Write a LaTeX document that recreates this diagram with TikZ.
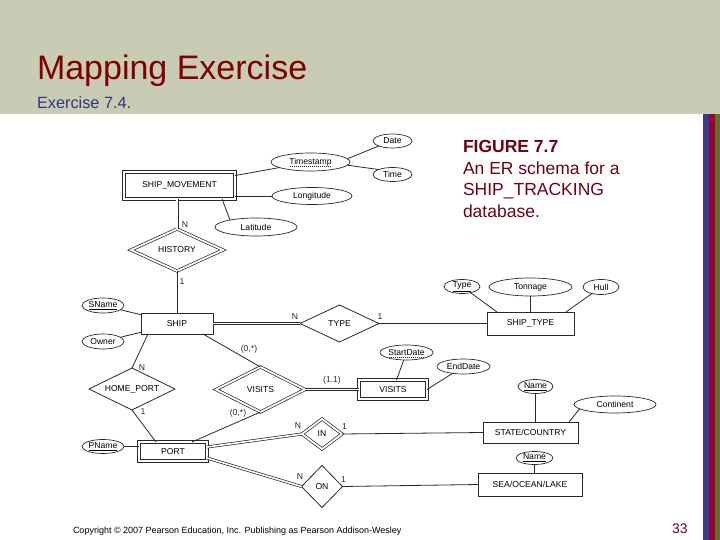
\documentclass[tikz,border=0pt]{standalone}
\usepackage{fontspec}
\setmainfont{Liberation Sans}
\usetikzlibrary{shapes.geometric,calc}
\definecolor{hdr}{RGB}{200,204,180}
\definecolor{ttl}{RGB}{128,0,0}
\definecolor{subc}{RGB}{51,51,128}
\definecolor{capc}{RGB}{110,0,20}
\definecolor{stb}{RGB}{60,60,140}
\definecolor{str}{RGB}{150,0,50}
\definecolor{sto}{RGB}{100,110,40}
\definecolor{ln}{RGB}{40,40,40}
\newcommand\erfont{\fontsize{8.6}{10}\selectfont}
\begin{document}
\begin{tikzpicture}[x=1pt,y=-1pt,
 every node/.style={inner sep=0pt, outer sep=0pt},
 ent/.style={draw=ln, rectangle, line width=0.8pt, font=\erfont},
 went/.style={ent, double, double distance=1.8pt, line width=0.7pt},
 rel/.style={draw=ln, diamond, line width=0.8pt, font=\erfont},
 wrel/.style={rel, double, double distance=1.8pt, line width=0.7pt},
 att/.style={draw=ln, ellipse, line width=0.7pt, font=\erfont},
 lbl/.style={font=\erfont, text=ln},
 con/.style={draw=ln, line width=0.8pt},
 dcon/.style={draw=ln, double, double distance=1.6pt, line width=0.7pt},
 dul/.style={draw=ln, line width=0.5pt, dash pattern=on 1pt off 1pt}]
\useasboundingbox (0,0) rectangle (720,540);
% header and stripes
\fill[hdr] (0,0) rectangle (720,114);
\fill[stb] (703,114) rectangle (708.5,540);
\fill[str] (708.5,114) rectangle (714.5,540);
\fill[sto] (714.5,114) rectangle (720,540);
\node[anchor=base west, text=ttl, font=\fontsize{34}{38}\selectfont] (title) at (37,80) {Mapping Exercise};
\node[anchor=base west, text=subc, font=\fontsize{16.3}{19}\selectfont] (subt) at (37,109) {Exercise 7.4.};
% caption
\node[anchor=base west, text=capc, font=\fontsize{17.5}{21}\selectfont\bfseries] (cap1) at (463,153) {FIGURE 7.7};
\node[anchor=base west, text=capc, font=\fontsize{17.5}{21}\selectfont] (cap2) at (463,174.5) {An ER schema for a};
\node[anchor=base west, text=capc, font=\fontsize{17.5}{21}\selectfont] (cap3) at (463,196) {SHIP\_TRACKING};
\node[anchor=base west, text=capc, font=\fontsize{17.5}{21}\selectfont] (cap4) at (463,217.5) {database.};
% footer
\node[anchor=base west, font=\fontsize{9}{10}\selectfont] (copy) at (73,533) {Copyright © 2007 Pearson Education, Inc. Publishing as Pearson Addison-Wesley};
\node[anchor=base west, text=capc, font=\fontsize{14}{16}\selectfont] (pg) at (672,533) {33};
% entities
\node[went, minimum width=111pt, minimum height=27pt] (sm) at (179.5,185.5) {SHIP\_MOVEMENT};
\node[ent, minimum width=72pt, minimum height=21pt] (ship) at (177,323.5) {SHIP};
\node[ent, minimum width=87pt, minimum height=23pt] (st) at (530.5,323.5) {SHIP\_TYPE};
\node[went, minimum width=68pt, minimum height=19pt] (vent) at (393,389.5) {VISITS};
\node[went, minimum width=68pt, minimum height=19pt] (port) at (173,451.5) {PORT};
\node[ent, minimum width=95pt, minimum height=21pt] (sc) at (530.5,432.5) {STATE/COUNTRY};
\node[ent, minimum width=104pt, minimum height=23pt] (sol) at (530,484.5) {SEA/OCEAN/LAKE};
% relationships
\node[wrel, aspect=2.2, minimum width=92pt, minimum height=42pt] (hist) at (177,250) {HISTORY};
\node[rel, aspect=2.1, minimum width=79pt, minimum height=37pt] (type) at (339.5,323.5) {TYPE};
\node[wrel, aspect=2, minimum width=89pt, minimum height=45pt] (vrel) at (260.5,389.5) {VISITS};
\node[rel, aspect=2, minimum width=86pt, minimum height=42pt] (hp) at (132,389) {HOME\_PORT};
\node[wrel, aspect=1.33, minimum width=40pt, minimum height=30pt] (in) at (322,434) {IN};
\node[rel, aspect=1, minimum width=41pt, minimum height=42pt] (on) at (322,486.5) {ON};
% attributes
\node[att, minimum width=79pt, minimum height=18pt] (ts) at (310.5,162) {Timestamp};
\node[att, minimum width=39pt, minimum height=14pt] (date) at (392.5,141) {Date};
\node[att, minimum width=39pt, minimum height=14pt] (time) at (392.5,174.5) {Time};
\node[att, minimum width=80pt, minimum height=17pt] (lon) at (312,196) {Longitude};
\node[att, minimum width=82pt, minimum height=18pt] (lat) at (256,227) {Latitude};
\node[att, minimum width=42pt, minimum height=15pt] (sn) at (103,305.5) {\underline{SName}};
\node[att, minimum width=42pt, minimum height=15pt] (own) at (103,341.5) {Owner};
\node[att, minimum width=36pt, minimum height=14pt] (typ) at (462,286.5) {\underline{Type}};
\node[att, minimum width=83pt, minimum height=18pt] (ton) at (530.5,287) {Tonnage};
\node[att, minimum width=36pt, minimum height=15pt] (hull) at (601,287) {Hull};
\node[att, minimum width=53pt, minimum height=15pt] (sd) at (406.5,352.5) {StartDate};
\node[att, minimum width=53pt, minimum height=15pt] (ed) at (463.5,366.5) {EndDate};
\node[att, minimum width=42pt, minimum height=14pt] (pn) at (103,446.5) {\underline{PName}};
\node[att, minimum width=35pt, minimum height=14pt] (n1) at (535.5,386.5) {\underline{Name}};
\node[att, minimum width=82pt, minimum height=17pt] (cont) at (615,404.5) {Continent};
\node[att, minimum width=37pt, minimum height=13pt] (n2) at (534.5,458) {\underline{Name}};
% partial key underlines
\draw[dul] ($(ts.center)+(-21,4.5)$) -- ($(ts.center)+(21,4.5)$);
\draw[dul] ($(sd.center)+(-18,4.5)$) -- ($(sd.center)+(18,4.5)$);
% connectors
\draw[con] (sm) -- (ts);
\draw[con] (sm.east |- lon.west) -- (lon.west);
\draw[con] ($(sm.south east)+(-13,0)$) -- (lat.165);
\draw[con] (ts.5) -- (date.200);
\draw[con] (ts.-5) -- (time.160);
\draw[dcon] (sm.south -| hist.north) -- (hist.north);
\draw[con] (hist.south) -- (hist.south |- ship.north);
\draw[con] (sn) -- (ship);
\draw[con] (own) -- (ship);
\draw[dcon] (ship.east) -- (type.west);
\draw[con] (type.east) -- (st.west);
\draw[con] (typ) -- ($(st.north west)+(10,0)$);
\draw[con] (ton.south) -- (ton.south |- st.north);
\draw[con] (hull) -- ($(st.north east)+(-8,0)$);
\draw[con] ($(ship.south east)+(-10,0)$) -- (vrel.north);
\draw[con] ($(ship.south west)+(7,0)$) -- (hp.north);
\draw[con] (hp.south) -- ($(port.north west)+(17,0)$);
\draw[con] (pn.east) -- (pn.east -| port.west);
\draw[con] ($(port.north east)+(-15,0)$) -- (vrel.south);
\draw[dcon] (vrel.east) -- (vent.west);
\draw[con] (sd) -- (vent);
\draw[con] (ed) -- (vent.east);
\draw[dcon] ($(port.east)+(0,-4.5)$) -- (in.west);
\draw[con] (in.east) -- (sc.west);
\draw[con] (n1.south) -- (n1.south |- sc.north);
\draw[con] ($(sc.north east)+(-9,0)$) -- (cont.187);
\draw[dcon] ($(port.east)+(0,6.5)$) -- (on.west);
\draw[con] (on.east) -- (sol.west);
\draw[con] (n2.south) -- (n2.south |- sol.north);
% cardinality labels
\node[lbl] (lN1) at (185,225) {N};
\node[lbl] (l1a) at (182,282) {1};
\node[lbl] (lN2) at (295,317) {N};
\node[lbl] (l1b) at (380,317) {1};
\node[lbl] (lvs) at (249,349) {(0,*)};
\node[lbl] (l11) at (332,380.5) {(1.1)};
\node[lbl] (lN3) at (142,368) {N};
\node[lbl] (l1c) at (143,412) {1};
\node[lbl] (lvp) at (238,413) {(0,*)};
\node[lbl] (lN4) at (298,425.5) {N};
\node[lbl] (l1d) at (344.5,427) {1};
\node[lbl] (lN5) at (300,476.5) {N};
\node[lbl] (l1e) at (343.5,479.5) {1};
\end{tikzpicture}
\end{document}
